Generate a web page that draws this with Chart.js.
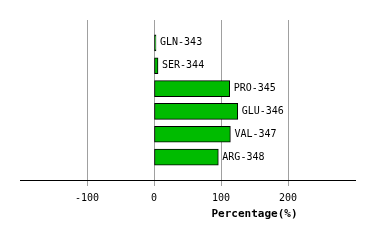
<!DOCTYPE html>
<html>
<head>
<script src="https://cdn.jsdelivr.net/npm/chart.js@4"></script>
<style>
  html, body { margin: 0; padding: 0; background: #ffffff; }
  #wrap { width: 374px; height: 240px; }
</style>
</head>
<body>
<div id="wrap"><canvas id="barChart"></canvas></div>
<script>
const residues = ['', 'GLN-343', 'SER-344', 'PRO-345', 'GLU-346', 'VAL-347', 'ARG-348', ''];
const percentages = [null, 3, 6, 113, 125, 114, 96, null];
const tickValues = [-100, 0, 100, 200];
const axisTitle = 'Percentage(%)';

const monoFont = '"DejaVu Sans Mono", monospace';

// residue names next to each bar end, and the offset axis title
const labelPlugin = {
  id: 'barLabels',
  afterDatasetsDraw(chart) {
    const ctx = chart.ctx;
    const meta = chart.getDatasetMeta(0);
    ctx.save();
    ctx.font = '10px ' + monoFont;
    ctx.fillStyle = '#000000';
    ctx.textBaseline = 'middle';
    ctx.textAlign = 'left';
    meta.data.forEach((bar, i) => {
      if (percentages[i] === null) return;
      ctx.fillText(residues[i], bar.x + 4, bar.y);
    });
    const xs = chart.scales.x;
    ctx.font = 'bold 11px ' + monoFont;
    ctx.textAlign = 'center';
    ctx.fillText(axisTitle, xs.getPixelForValue(150), 214);
    ctx.restore();
  }
};

const bar = document.getElementById('barChart');

  new Chart(bar, {
    type: 'bar',
    data: {
      labels: residues,
      datasets: [{
        data: percentages,
        backgroundColor: '#00bb00',
        borderColor: '#000000',
        borderWidth: 1,
        borderSkipped: false,
        barThickness: 16
      }]
    },
    plugins: [labelPlugin],
    options: {
      indexAxis: 'y',
      responsive: true,
      maintainAspectRatio: false,
      animation: false,
      layout: {
        padding: { left: 20, right: 19, top: 20, bottom: 0 }
      },
      plugins: {
        legend: { display: false },
        tooltip: { enabled: false }
      },
      scales: {
        x: {
          min: -200,
          max: 300,
          afterFit: (s) => { s.height = 60; },
          afterBuildTicks: (s) => {
            s.ticks = [-200].concat(tickValues, [300]).map(v => ({ value: v }));
          },
          grid: {
            color: (c) => (tickValues.includes(c.tick && c.tick.value) ? '#a0a0a0' : 'rgba(0,0,0,0)'),
            tickLength: 6,
            tickColor: (c) => (tickValues.includes(c.tick && c.tick.value) ? '#a0a0a0' : 'rgba(0,0,0,0)')
          },
          border: { color: '#000000', width: 1 },
          ticks: {
            color: '#000000',
            font: { family: monoFont, size: 10 },
            padding: 6,
            maxRotation: 0,
            autoSkip: false,
            callback: (v) => (tickValues.includes(v) ? String(v) : '')
          }
        },
        y: {
          display: false,
          offset: false
        }
      }
    }
  });
</script>
</body>
</html>
